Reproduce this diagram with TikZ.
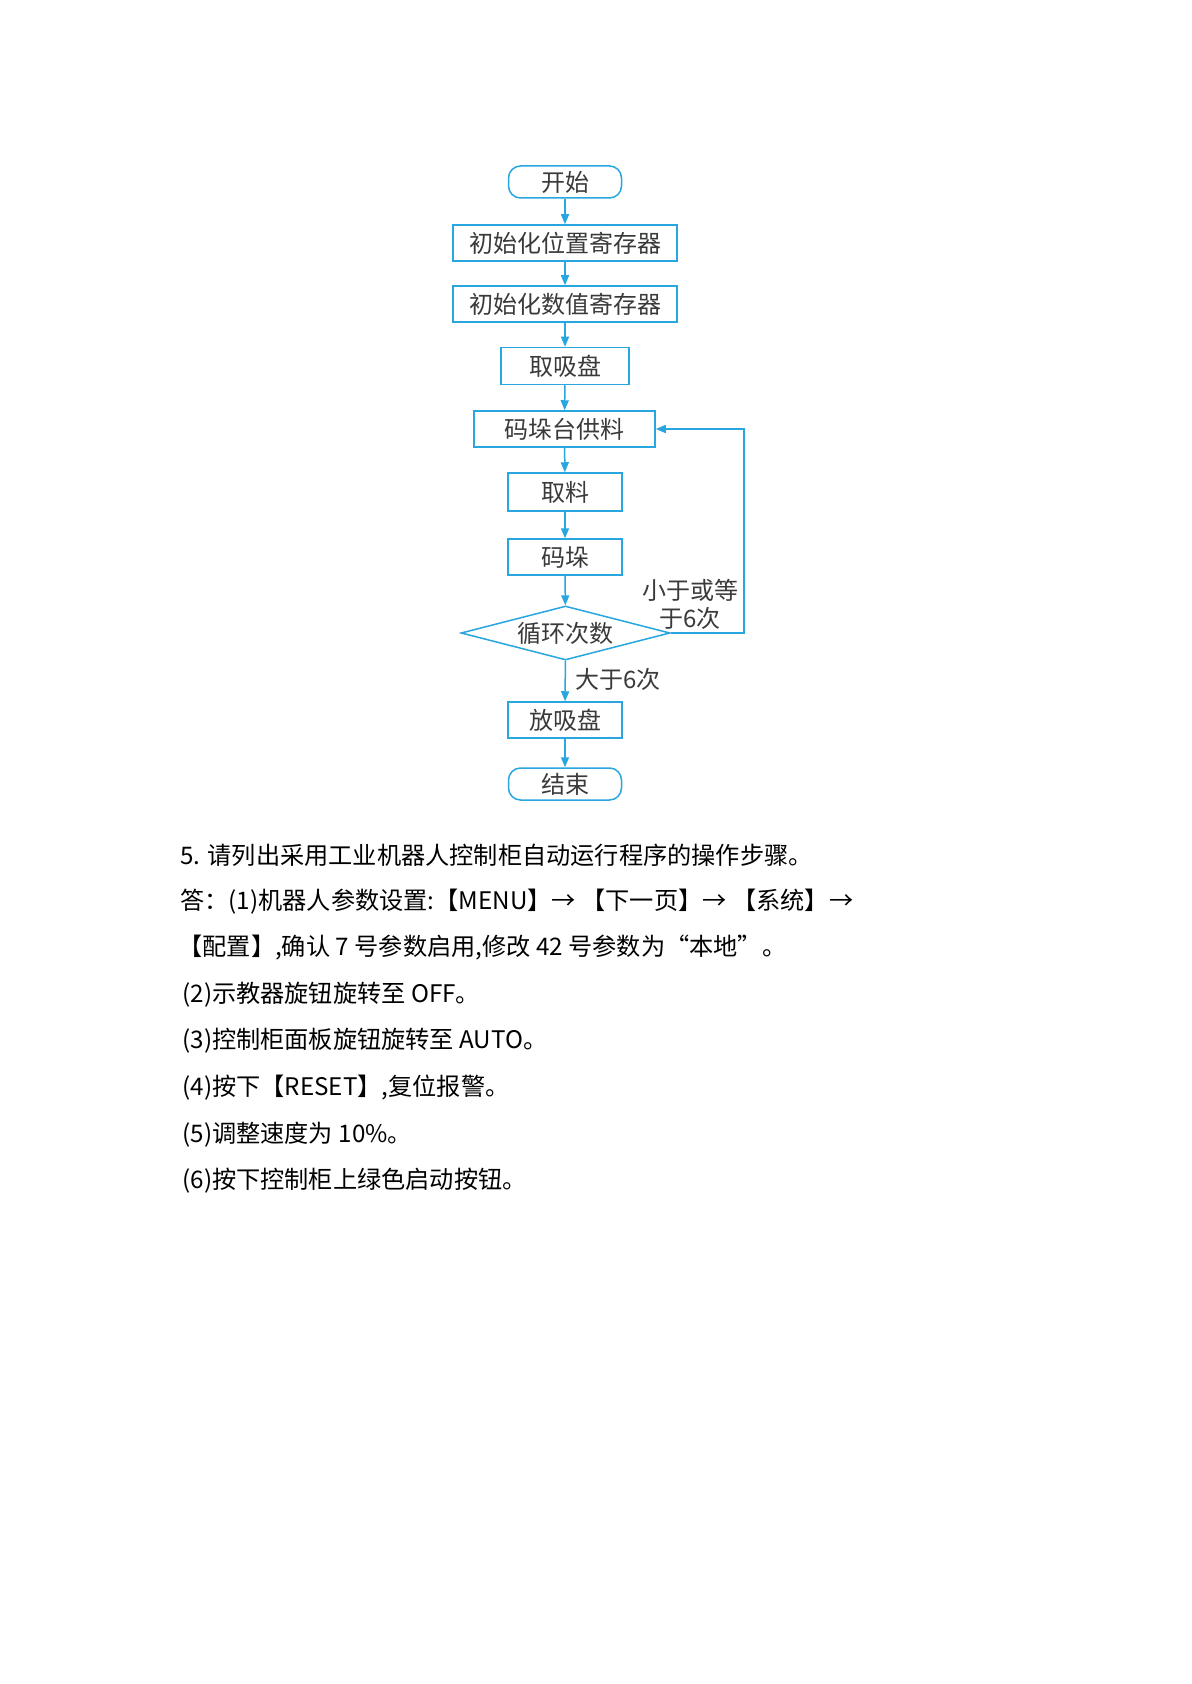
\documentclass[tikz,border=0pt]{standalone}
\usepackage{fontspec}
\setmainfont{Noto Sans CJK SC}
\usetikzlibrary{shapes.geometric,arrows.meta}
\definecolor{fc}{HTML}{27A6E0}
\definecolor{tc}{HTML}{3A3A3A}
\begin{document}
\begin{tikzpicture}[x=0.5pt,y=-0.5pt,
  box/.style={draw=fc, line width=0.75pt, inner sep=0pt, text=tc, font=\fontsize{12pt}{14pt}\selectfont},
  term/.style={box, rounded corners=6pt},
  link/.style={draw=fc, line width=0.75pt, -{Triangle[length=5pt,width=4pt]}},
  lab/.style={inner sep=0pt, text=tc, font=\fontsize{12pt}{14pt}\selectfont, align=center},
  body/.style={anchor=west, inner sep=0pt, text=black, font=\fontsize{12.1pt}{14pt}\selectfont}]
\useasboundingbox (0,0) rectangle (1191,1684);
\fill[white] (0,0) rectangle (1191,1684);
% flowchart
\node[term, minimum width=56.5pt, minimum height=16pt] (start) at (565,182) {开始};
\node[box, minimum width=112pt, minimum height=18pt] (ipos) at (565,243) {初始化位置寄存器};
\node[box, minimum width=112pt, minimum height=18pt] (ival) at (565,304) {初始化数值寄存器};
\node[box, minimum width=64pt, minimum height=18.5pt] (grip) at (565,366) {取吸盘};
\node[box, minimum width=90.5pt, minimum height=18pt] (supply) at (564.5,429) {码垛台供料};
\node[box, minimum width=57pt, minimum height=19pt] (pick) at (565,492) {取料};
\node[box, minimum width=57pt, minimum height=18pt] (stack) at (565,557) {码垛};
\node[box, diamond, aspect=3.87, minimum width=104.5pt, minimum height=27pt] (loop) at (565.5,633) {循环次数};
\node[box, minimum width=57pt, minimum height=18pt] (release) at (565,720) {放吸盘};
\node[term, minimum width=56.5pt, minimum height=16pt] (end) at (565,784) {结束};
\coordinate (rt) at (744,530);
\draw[link] (start) -- (ipos);
\draw[link] (ipos) -- (ival);
\draw[link] (ival) -- (grip);
\draw[link] (grip) -- (supply);
\draw[link] (supply) -- (pick);
\draw[link] (pick) -- (stack);
\draw[link] (stack) -- (loop);
\draw[link] (loop) -- (release);
\draw[link] (release) -- (end);
\draw[link] (loop.east) -| (rt) |- (supply.east);
\node[lab] (le) at (690,604) {小于或等\\于6次};
\node[lab, anchor=west] (gt) at (575,679) {大于6次};
% body text
\node[body] (t1) at (180,855) {5. 请列出采用工业机器人控制柜自动运行程序的操作步骤。};
\node[body] (t2) at (180,902) {答：(1)机器人参数设置:【MENU】→ 【下一页】→ 【系统】→};
\node[body] (t3) at (178,948) {【配置】,确认 7 号参数启用,修改 42 号参数为“本地”。};
\node[body] (t4) at (182,995) {(2)示教器旋钮旋转至 OFF。};
\node[body] (t5) at (182,1041) {(3)控制柜面板旋钮旋转至 AUTO。};
\node[body] (t6) at (182,1088) {(4)按下【RESET】,复位报警。};
\node[body] (t7) at (182,1135) {(5)调整速度为 10\%。};
\node[body] (t8) at (182,1181) {(6)按下控制柜上绿色启动按钮。};
\end{tikzpicture}
\end{document}
